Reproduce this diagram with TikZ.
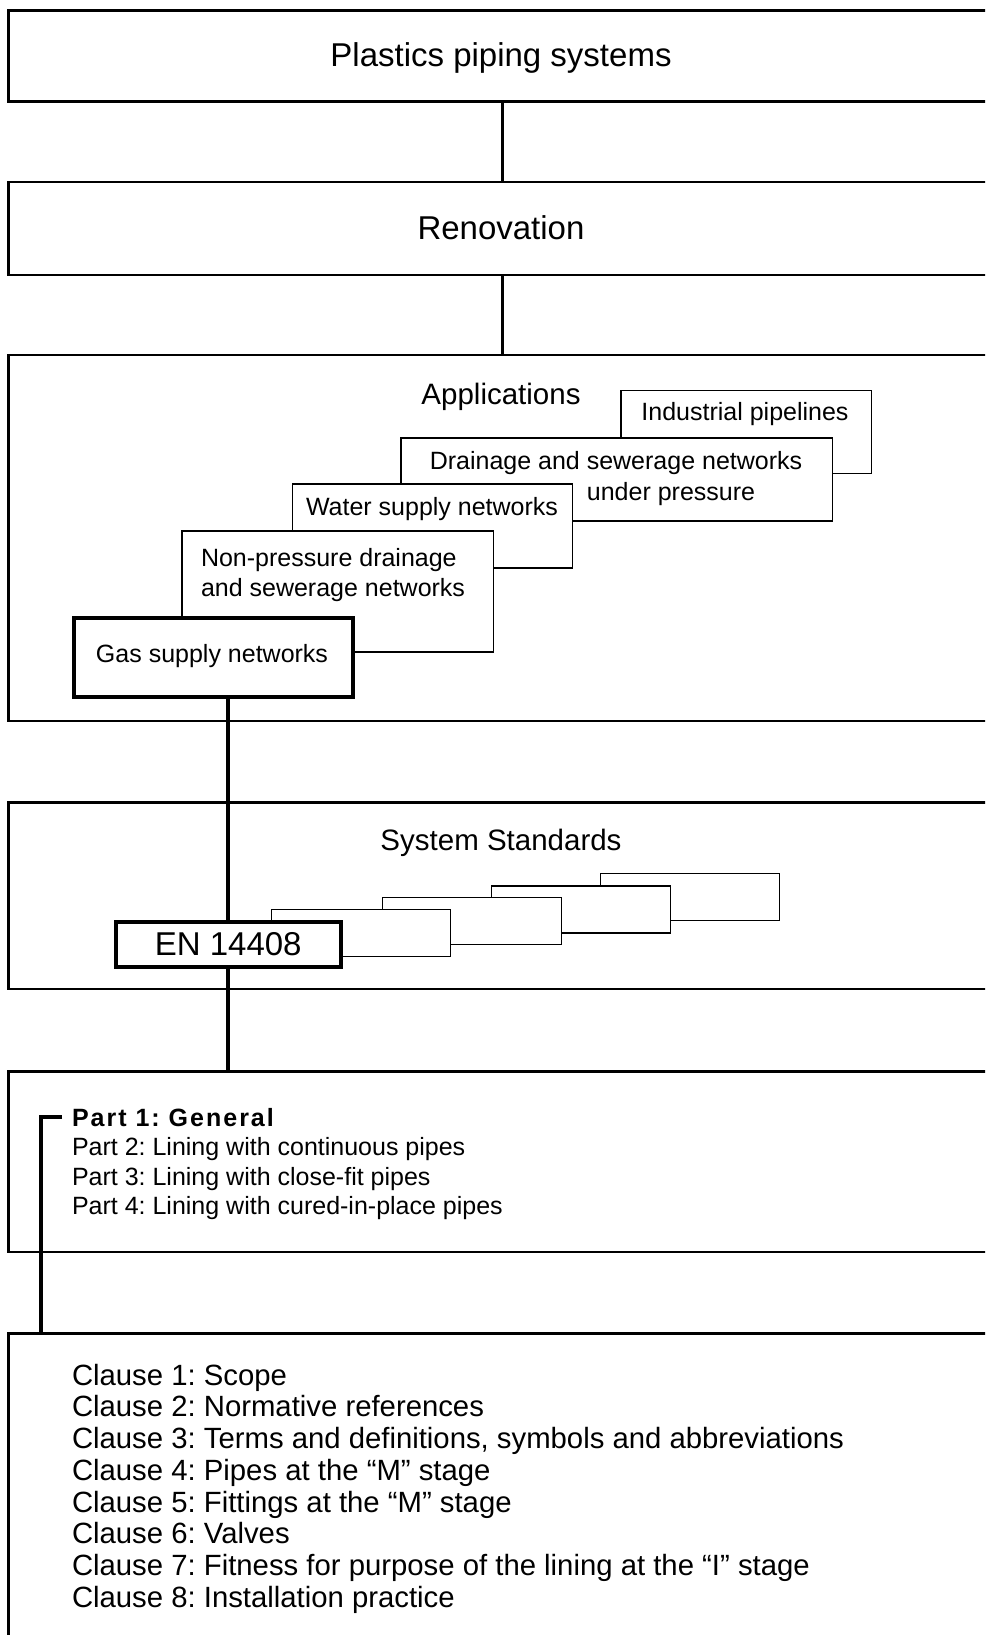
\documentclass[tikz,border=0pt]{standalone}
\usepackage{fontspec}
\setmainfont{Liberation Sans}
\frenchspacing
\begin{document}
\frenchspacing
\begin{tikzpicture}[x=1pt,y=-1pt,
  big/.style={font=\fontsize{33}{40}\selectfont},
  head/.style={font=\fontsize{29.5}{36}\selectfont},
  small/.style={font=\fontsize{25}{30}\selectfont},
  clausefont/.style={font=\fontsize{29.3}{35}\selectfont},
  txt/.style={inner sep=0pt, outer sep=0pt},
  mainbox/.style={draw, line width=2.5pt, fill=white, inner sep=0pt, outer sep=0pt, minimum width=988.5pt, anchor=north west},
  subbox/.style={draw, line width=1.3pt, fill=white, inner sep=0pt, outer sep=0pt, anchor=north west},
  heavybox/.style={draw, line width=4pt, fill=white, inner sep=0pt, outer sep=0pt, anchor=north west},
  stdbox/.style={subbox, minimum width=179pt, minimum height=47pt},
  link/.style={line width=3pt},
  heavylink/.style={line width=4pt},
]
\useasboundingbox (0,0) rectangle (985,1635);
\clip (0,0) rectangle (985,1635);
\fill[white] (0,0) rectangle (985,1635);

% main boxes
\node[mainbox, minimum height=91pt] (top) at (8.5,10.5) {};
\node[mainbox, minimum height=93pt] (ren) at (8.5,182) {};
\node[mainbox, minimum height=366pt] (app) at (8.5,355) {};
\node[mainbox, minimum height=186.5pt] (ss) at (8.5,802.5) {};
\node[mainbox, minimum height=180.5pt] (parts) at (8.5,1071.5) {};
\node[mainbox, minimum height=400pt] (cl) at (8.5,1333.5) {};

% headings
\node[txt, big, anchor=base] (ttop) at (501,67) {Plastics piping systems};
\node[txt, big, anchor=base] (tren) at (501,239) {Renovation};
\node[txt, head, anchor=base] (tapp) at (501,404) {Applications};
\node[txt, head, anchor=base] (tss) at (501,850) {System Standards};

% application boxes
\node[subbox, minimum width=250.5pt, minimum height=83pt] (ind) at (621,390.5) {};
\node[txt, small, anchor=base] (tind) at (745,420) {Industrial pipelines};
\node[subbox, minimum width=431.5pt, minimum height=83pt] (drn) at (401,438) {};
\node[txt, small, anchor=base] (tdrn1) at (616,469) {Drainage and sewerage networks};
\node[txt, small, anchor=base] (tdrn2) at (671,500) {under pressure};
\node[subbox, minimum width=280pt, minimum height=84pt] (wat) at (292.5,484) {};
\node[txt, small, anchor=base] (twat) at (432,515) {Water supply networks};
\node[subbox, minimum width=311.5pt, minimum height=121pt] (np) at (182,531) {};
\node[txt, small, anchor=base west] (tnp1) at (201,566.5) {Non-pressure drainage};
\node[txt, small, anchor=base west] (tnp2) at (201,596) {and sewerage networks};
\node[heavybox, minimum width=279.5pt, minimum height=79.5pt] (gas) at (73.5,617.5) {};
\node[txt, small, anchor=base] (tgas) at (212,662) {Gas supply networks};

% system standards boxes
\node[stdbox] (s4) at (600.5,873.5) {};
\node[stdbox] (s3) at (491.5,886) {};
\node[stdbox] (s2) at (382.5,897.5) {};
\node[stdbox] (s1) at (271.5,909.5) {};
\node[heavybox, minimum width=225.5pt, minimum height=45.5pt] (en) at (115.5,921.5) {};
\node[txt, big, anchor=base] (ten) at (228.25,955) {EN 14408};

% parts
\node[txt, small, anchor=base west, font=\fontsize{25}{30}\selectfont\bfseries\addfontfeature{LetterSpace=8}] (p1) at (72,1126) {Part 1: General};
\node[txt, small, anchor=base west] (p2) at (72,1155.5) {Part 2: Lining with continuous pipes};
\node[txt, small, anchor=base west] (p3) at (72,1185) {Part 3: Lining with close-fit pipes};
\node[txt, small, anchor=base west] (p4) at (72,1214.5) {Part 4: Lining with cured-in-place pipes};

% clauses
\foreach \t [count=\i] in {
  {Clause 1: Scope},
  {Clause 2: Normative references},
  {Clause 3: Terms and definitions, symbols and abbreviations},
  {Clause 4: Pipes at the “M” stage},
  {Clause 5: Fittings at the “M” stage},
  {Clause 6: Valves},
  {Clause 7: Fitness for purpose of the lining at the “I” stage},
  {Clause 8: Installation practice}}
  \node[txt, clausefont, anchor=base west] (c\i) at (72,{1385+(\i-1)*31.75}) {\t};

% connectors
\draw[link] (top.south) -- (ren.north);
\draw[link] (ren.south) -- (app.north);
\draw[heavylink] (en.north |- gas.south) -- (en.north);
\draw[heavylink] (en.south) -- (en.south |- parts.north);
\coordinate (brk) at (41,1117);
\draw[heavylink] ([xshift=-10pt]p1.west) -| (brk |- cl.north);
\end{tikzpicture}
\end{document}
